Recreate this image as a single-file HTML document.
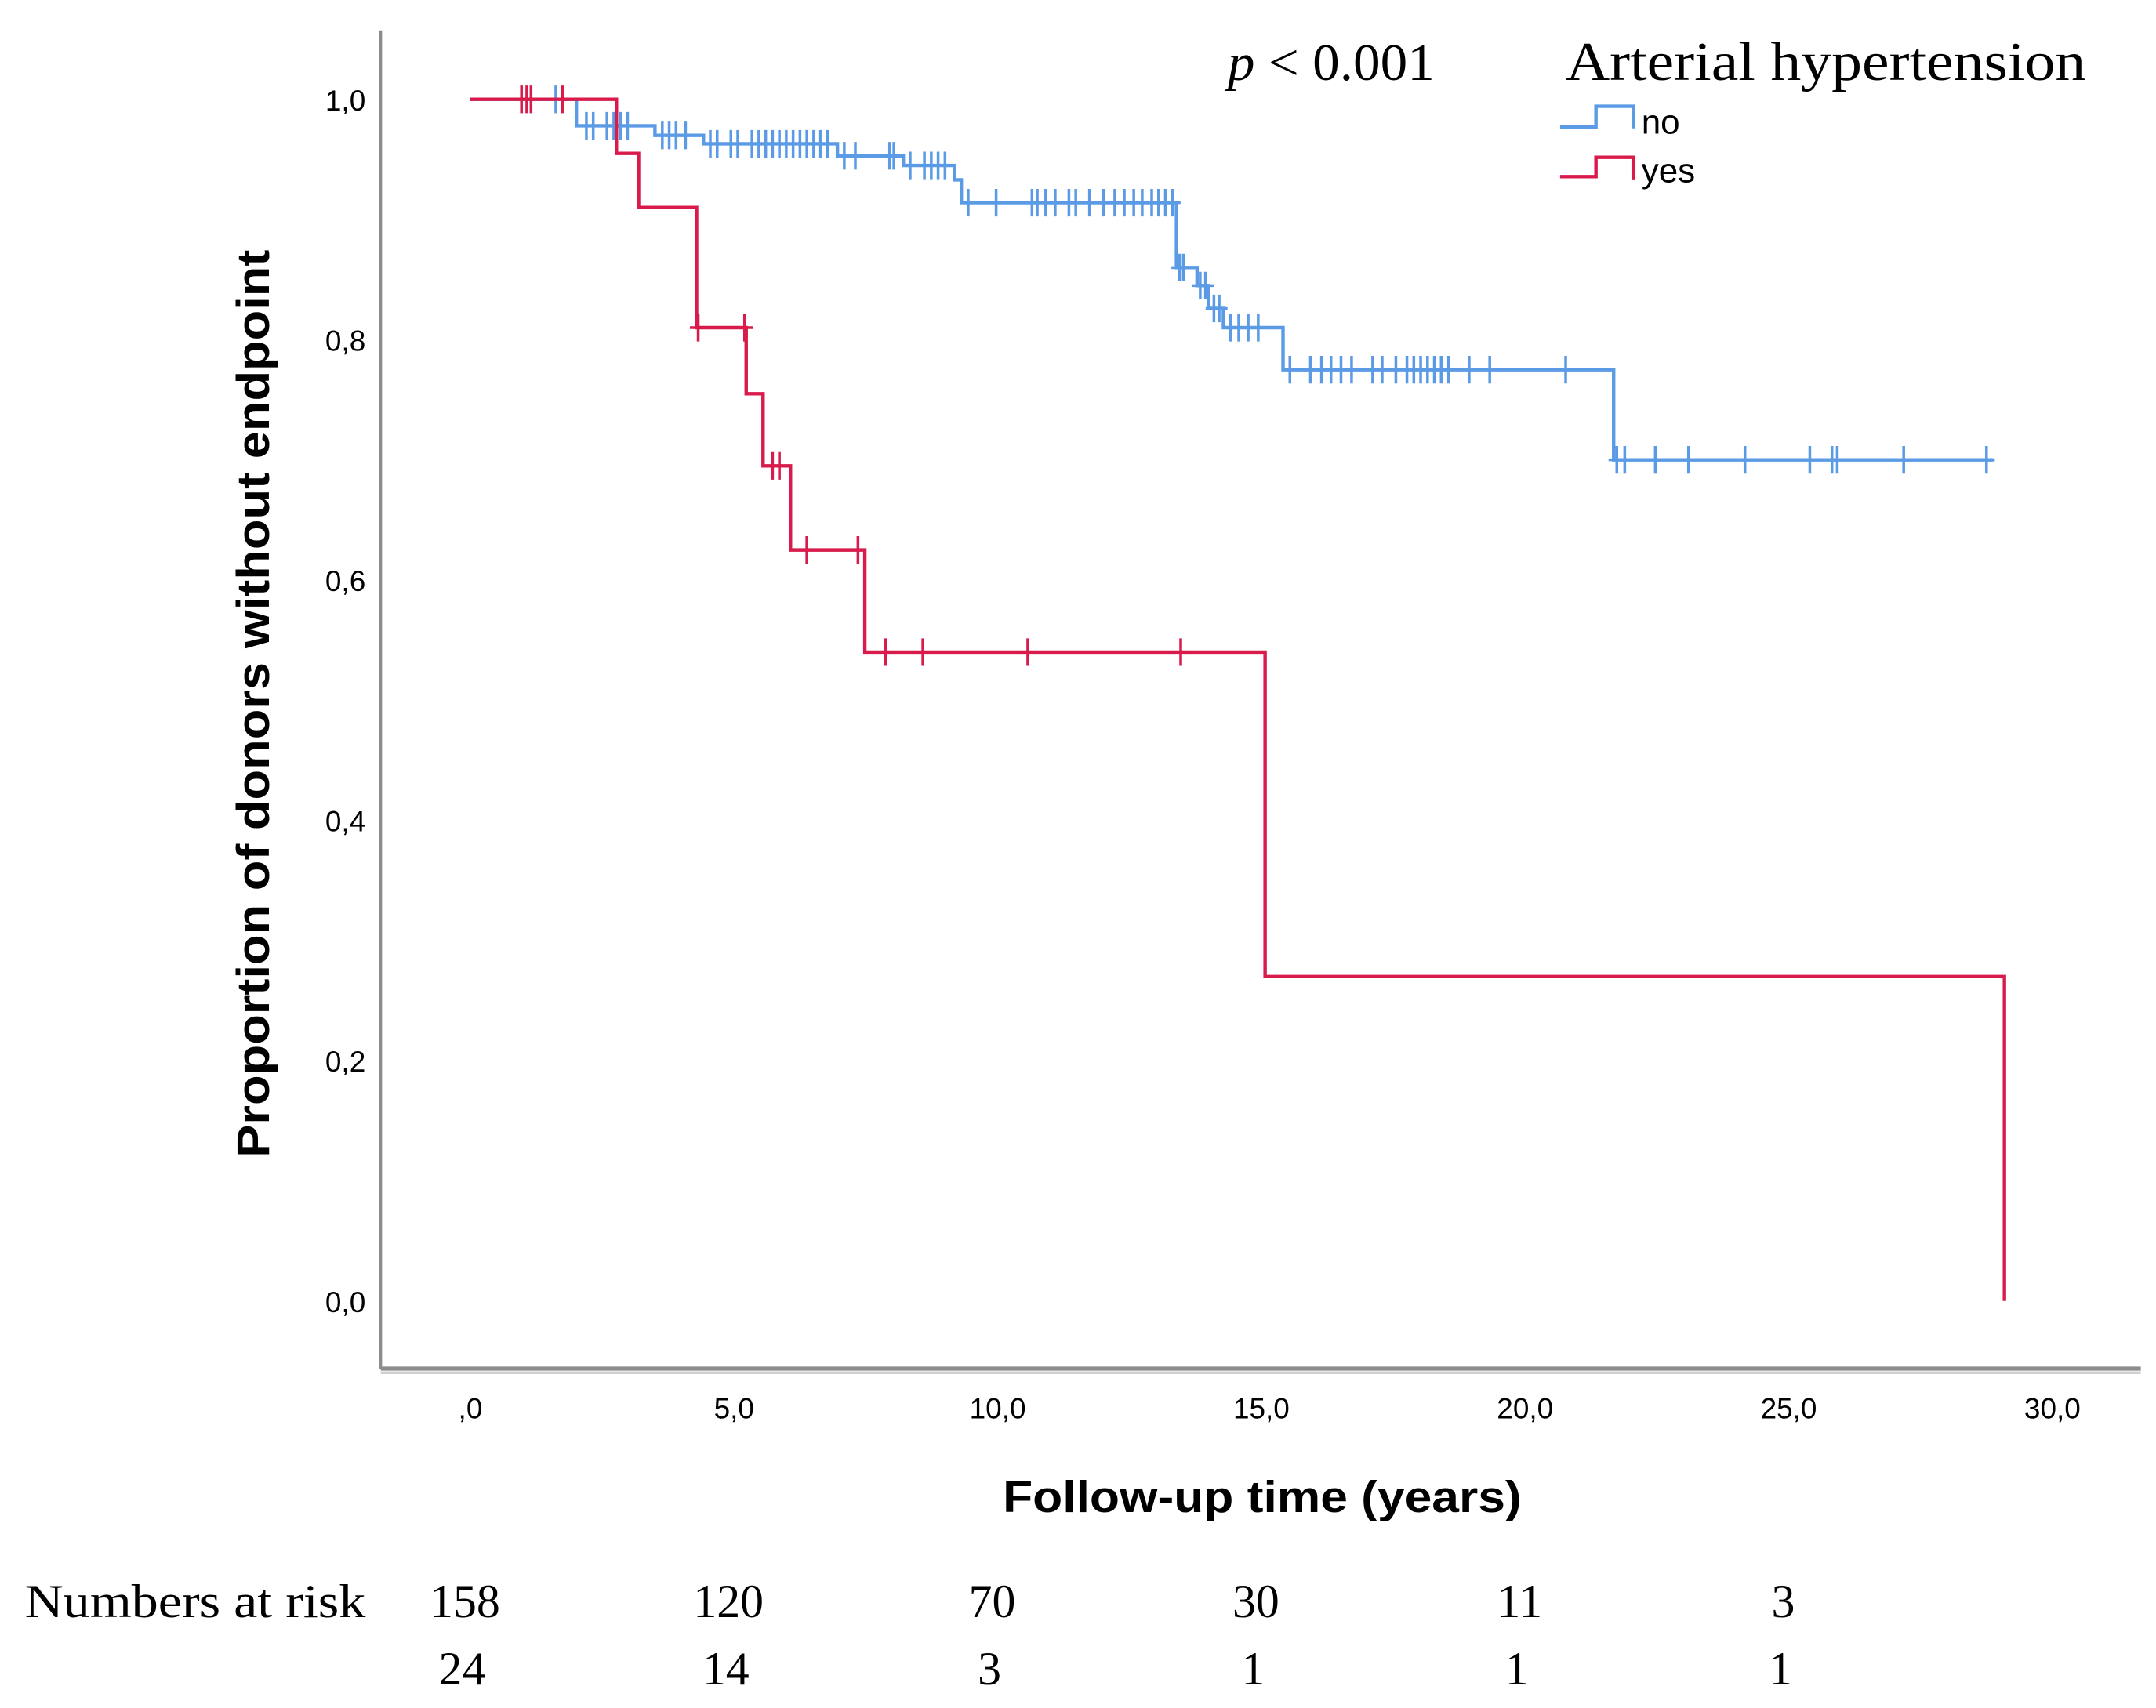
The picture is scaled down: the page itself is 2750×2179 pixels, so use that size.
<!DOCTYPE html>
<html><head><meta charset="utf-8"><style>
html,body{margin:0;padding:0;background:#fff;}
svg{display:block;}
</style></head><body>
<svg id="chart" width="2750" height="2179" viewBox="0 0 1563 1238" preserveAspectRatio="none" xmlns="http://www.w3.org/2000/svg">
<g id="axes">
<line x1="276" y1="22" x2="276" y2="992" stroke="#8c8c8c" stroke-width="2"/>
<line x1="276" y1="992" x2="1552" y2="992" stroke="#8c8c8c" stroke-width="3"/>
<line x1="276" y1="995" x2="1552" y2="995" stroke="#d0d0d0" stroke-width="2"/>
</g>
<g id="ticks"></g>
<g id="curves"></g>
<text transform="translate(195,510) rotate(-90)" text-anchor="middle" font-family="Liberation Sans, sans-serif" font-weight="bold" font-size="33" textLength="658" lengthAdjust="spacingAndGlyphs">Proportion of donors without endpoint</text>
<text x="915" y="1096" text-anchor="middle" font-family="Liberation Sans, sans-serif" font-weight="bold" font-size="32" textLength="376" lengthAdjust="spacingAndGlyphs">Follow-up time (years)</text>
<text x="890" y="58" font-family="Liberation Serif, serif" font-size="38" textLength="150" lengthAdjust="spacingAndGlyphs"><tspan font-style="italic">p</tspan> &lt; 0.001</text>
<g>
<text x="1135" y="58" font-family="Liberation Serif, serif" font-size="40" textLength="377" lengthAdjust="spacingAndGlyphs">Arterial hypertension</text>
<path d="M1131 92 H1157 V77 H1184 V93" fill="none" stroke="#5b9be6" stroke-width="2.5"/>
<text x="1190" y="97" font-family="Liberation Sans, sans-serif" font-size="25">no</text>
<path d="M1131 128 H1157 V114 H1184 V130" fill="none" stroke="#d81b4b" stroke-width="2.5"/>
<text x="1190" y="132" font-family="Liberation Sans, sans-serif" font-size="25">yes</text>
</g>
<g id="risk">
<text x="18" y="1172" font-family="Liberation Serif, serif" font-size="34" textLength="247" lengthAdjust="spacingAndGlyphs">Numbers at risk</text>
</g>
</svg>
<script>
const xTicks=[0,5,10,15,20,25,30];
const xTickLabels=[",0","5,0","10,0","15,0","20,0","25,0","30,0"];
const yTicks=[0,0.2,0.4,0.6,0.8,1.0];
const yTickLabels=["0,0","0,2","0,4","0,6","0,8","1,0"];
const noTimes=[0,2.01,3.5,4.42,6.96,8.21,9.18,9.31,13.39,13.78,14.0,14.28,15.41,21.68];
const noSurv=[1.0,0.978,0.970,0.963,0.953,0.945,0.933,0.914,0.86,0.845,0.826,0.81,0.775,0.70];
const noEnd=28.88;
const noCensor=[1.62,2.2,2.33,2.59,2.72,2.85,2.98,3.64,3.77,3.9,4.08,4.55,4.68,4.94,5.07,5.34,5.47,5.6,5.73,5.86,5.99,6.12,6.25,6.38,6.51,6.64,6.77,7.09,7.3,7.95,8.03,8.34,8.61,8.74,8.87,9.0,9.44,9.97,10.65,10.75,10.91,11.09,11.35,11.48,11.74,12.01,12.22,12.4,12.58,12.74,12.92,13.05,13.18,13.31,13.45,13.52,13.84,13.94,14.1,14.2,14.41,14.57,14.75,14.94,15.54,15.93,16.14,16.32,16.51,16.71,17.11,17.29,17.55,17.76,17.89,18.02,18.15,18.28,18.41,18.55,18.94,19.33,20.77,21.74,21.89,22.47,23.1,24.17,25.4,25.82,25.92,27.18,28.75];
const yesTimes=[0,2.77,3.19,4.29,5.23,5.55,6.07,7.48,15.07,29.09];
const yesSurv=[1.0,0.955,0.91,0.81,0.755,0.695,0.625,0.54,0.27,0.0];
const yesEnd=29.09;
const yesCensor=[0.97,1.07,1.15,1.75,4.32,5.2,5.73,5.86,6.38,7.35,7.87,8.58,10.57,13.47];
const riskTimes=[0,5,10,15,20,25];
const riskNo=[158,120,70,30,11,3];
const riskYes=[24,14,3,1,1,1];

const NS='http://www.w3.org/2000/svg';
function xs(t){return 341+t*38.23;}
function ys(s){return 943-s*871;}
function mk(tag,attrs,parent){const e=document.createElementNS(NS,tag);for(const k in attrs)e.setAttribute(k,attrs[k]);parent.appendChild(e);return e;}
const ticks=document.getElementById('ticks');
xTicks.forEach((t,i)=>{
 const e=mk('text',{x:xs(t),y:1028,'text-anchor':'middle','font-family':'Liberation Sans, sans-serif','font-size':21},ticks);
 
 
 e.textContent=xTickLabels[i];
});
yTicks.forEach((v,i)=>{
 const e=mk('text',{x:265,y:ys(v)+8,'text-anchor':'end','font-family':'Liberation Sans, sans-serif','font-size':21},ticks);
 
 
 e.textContent=yTickLabels[i];
});
function survAt(times,surv,t){let s=surv[0];for(let i=0;i<times.length;i++){if(times[i]<=t)s=surv[i];}return s;}
function drawCurve(times,surv,end,cens,color,name){
 const g=mk('g',{},document.getElementById('curves'));
 
 
 let d='M'+xs(times[0])+' '+ys(surv[0]);
 for(let i=1;i<times.length;i++){d+=' H'+xs(times[i])+' V'+ys(surv[i]);}
 d+=' H'+xs(end);
 const p=mk('path',{d:d,fill:'none',stroke:color,'stroke-width':2.5},g);
 
 
 cens.forEach(t=>{
  const x=xs(t),y=ys(survAt(times,surv,t));
  const c=mk('path',{d:'M'+x+' '+(y-10)+' V'+(y+10)+' M'+(x-6)+' '+y+' H'+(x+6),stroke:color,'stroke-width':2,fill:'none'},g);
  
  
 });
}
drawCurve(noTimes,noSurv,noEnd,noCensor,'#5b9be6','no');
drawCurve(yesTimes,yesSurv,yesEnd,yesCensor,'#d81b4b','yes');
const risk=document.getElementById('risk');
riskTimes.forEach((t,i)=>{
 const a=mk('text',{x:xs(t)-4,y:1172,'text-anchor':'middle','font-family':'Liberation Serif, serif','font-size':34},risk);
 
 
 a.textContent=riskNo[i];
 const b=mk('text',{x:xs(t)-6,y:1221,'text-anchor':'middle','font-family':'Liberation Serif, serif','font-size':34},risk);
 
 
 b.textContent=riskYes[i];
});
</script>
</body></html>
